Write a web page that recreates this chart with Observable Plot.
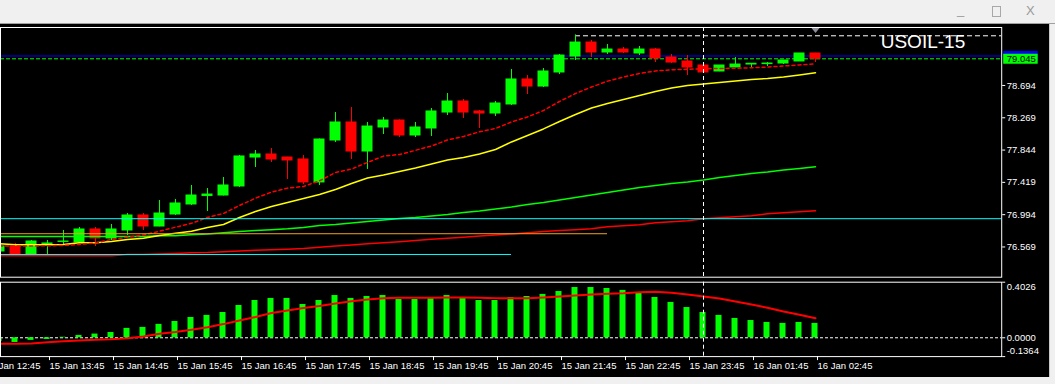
<!DOCTYPE html>
<html><head><meta charset="utf-8">
<script src="https://cdn.jsdelivr.net/npm/d3@7"></script>
<script src="https://cdn.jsdelivr.net/npm/@observablehq/plot@0.6"></script>
<style>
html,body{margin:0;padding:0;}
body{width:1055px;height:384px;background:#f0f0f0;position:relative;overflow:hidden;font-family:"Liberation Sans",Arial,sans-serif;}
#bar{position:absolute;left:0;top:0;width:1055px;height:23px;background:#f0f0f0;border-bottom:1px solid #a0a0a0;}
.ctl{position:absolute;color:#9a9a9a;font-size:13px;line-height:13px;}
#maxbox{position:absolute;left:992px;top:6px;width:7px;height:9px;border:1px solid #a8a8a8;}
#chart{position:absolute;left:0;top:24px;width:1049px;height:353px;background:#000;overflow:hidden;}
#main{position:absolute;left:0;top:1px;}
#ind{position:absolute;left:0;top:256px;}
#edge{position:absolute;left:1049px;top:24px;width:1px;height:353px;background:#c8c8c8;}
</style></head><body>
<div id="bar"><span class="ctl" style="left:957px;top:3px">_</span><div id="maxbox"></div><span class="ctl" style="left:1026px;top:4px">X</span></div>
<div id="chart"><div id="main"></div><div id="ind"></div></div>
<div id="edge"></div>
<script>
// ---- candles (USOIL M15) ----
const open  = [76.509,76.575,76.470,76.608,76.635,76.628,76.799,76.681,76.786,76.983,
  76.838,76.996,77.128,77.240,77.246,77.365,77.746,77.786,77.746,77.720,
  77.418,77.970,78.207,77.825,78.141,78.233,78.036,78.128,78.338,78.483,
  78.352,78.325,78.444,78.773,78.680,78.865,79.075,79.259,79.128,79.167,
  79.115,79.167,79.062,79.010,78.957,78.878,78.931,78.970,78.975,78.983,
  79.010,79.115];
const high  = [76.588,76.615,76.654,76.654,76.786,76.825,76.825,76.865,77.009,77.009,
  77.180,77.194,77.378,77.338,77.483,77.773,77.838,77.865,77.750,77.773,
  77.990,78.338,78.404,78.207,78.273,78.240,78.207,78.391,78.588,78.509,
  78.365,78.483,78.904,78.825,78.917,79.102,79.360,79.286,79.233,79.194,
  79.207,79.180,79.102,79.088,78.960,78.957,79.062,78.983,78.996,79.023,
  79.115,79.118];
const low   = [76.496,76.465,76.444,76.470,76.588,76.622,76.575,76.654,76.720,76.786,
  76.835,76.983,77.115,77.036,77.240,77.352,77.615,77.681,77.457,77.391,
  77.378,77.944,77.720,77.589,78.049,78.009,78.009,78.023,78.299,78.259,
  78.128,78.286,78.431,78.575,78.667,78.838,79.023,79.062,79.102,79.115,
  79.088,78.996,78.983,78.825,78.852,78.875,78.928,78.931,78.944,78.970,
  79.010,78.996];
const close = [76.575,76.470,76.641,76.615,76.641,76.799,76.681,76.799,76.983,76.838,
  77.009,77.141,77.246,77.259,77.378,77.760,77.786,77.720,77.707,77.418,
  77.983,78.207,77.825,78.154,78.233,78.036,78.141,78.352,78.483,78.338,
  78.325,78.457,78.773,78.680,78.878,79.088,79.259,79.128,79.167,79.128,
  79.167,79.049,78.996,78.931,78.865,78.957,78.970,78.980,78.983,79.023,
  79.115,79.045];
// ---- moving averages ----
const maFast = [76.582,76.582,76.582,76.585,76.589,76.602,76.622,76.668,76.697,76.727,
  76.776,76.829,76.881,76.957,77.010,77.115,77.211,77.291,77.343,77.365,
  77.439,77.549,77.595,77.681,77.765,77.786,77.841,77.898,77.977,78.023,
  78.085,78.128,78.214,78.280,78.365,78.483,78.588,78.674,78.751,78.806,
  78.852,78.885,78.901,78.907,78.914,78.918,78.920,78.927,78.937,78.950,
  78.964,78.980];
const maMid = [76.611,76.598,76.598,76.598,76.602,76.624,76.624,76.641,76.668,76.685,
  76.720,76.750,76.777,76.826,76.865,76.957,77.036,77.102,77.154,77.207,
  77.260,77.326,77.404,77.477,77.516,77.562,77.608,77.661,77.714,77.747,
  77.793,77.852,77.951,78.036,78.122,78.220,78.312,78.398,78.457,78.510,
  78.562,78.615,78.661,78.694,78.714,78.733,78.753,78.773,78.786,78.806,
  78.832,78.861];
const maSlow = [76.707,76.707,76.707,76.707,76.707,76.707,76.707,76.707,76.707,76.707,
  76.716,76.716,76.729,76.740,76.756,76.773,76.786,76.795,76.808,76.826,
  76.852,76.865,76.885,76.905,76.924,76.944,76.957,76.977,76.997,77.023,
  77.043,77.069,77.095,77.128,77.155,77.187,77.220,77.253,77.286,77.319,
  77.352,77.378,77.404,77.424,77.451,77.483,77.510,77.536,77.556,77.582,
  77.602,77.624];
const maLong = [76.453,76.453,76.453,76.453,76.453,76.453,76.453,76.453,76.470,76.470,
  76.477,76.483,76.493,76.497,76.506,76.516,76.527,76.532,76.540,76.549,
  76.565,76.581,76.595,76.610,76.624,76.639,76.654,76.669,76.683,76.698,
  76.712,76.727,76.741,76.757,76.773,76.786,76.795,76.808,76.835,76.848,
  76.861,76.887,76.901,76.914,76.940,76.953,76.966,76.980,77.006,77.019,
  77.032,77.045];
// ---- oscillator ----
const hist = [-0.027,-0.034,-0.019,-0.012,0.004,0.017,0.027,0.038,0.068,0.075,
  0.097,0.118,0.147,0.162,0.183,0.234,0.270,0.285,0.285,0.241,
  0.270,0.306,0.285,0.299,0.306,0.277,0.277,0.285,0.306,0.285,
  0.270,0.270,0.292,0.299,0.314,0.335,0.364,0.364,0.357,0.343,
  0.328,0.292,0.256,0.219,0.183,0.162,0.140,0.125,0.111,0.104,
  0.111,0.104];
const signal = [-0.043,-0.043,-0.041,-0.032,-0.025,-0.020,-0.014,-0.010,-0.003,0.009,
  0.029,0.041,0.058,0.077,0.099,0.125,0.151,0.180,0.198,0.216,
  0.230,0.248,0.265,0.277,0.287,0.290,0.290,0.290,0.292,0.292,
  0.290,0.287,0.287,0.287,0.292,0.299,0.306,0.314,0.319,0.323,
  0.330,0.333,0.326,0.314,0.299,0.285,0.263,0.241,0.217,0.190,
  0.167,0.142];
// ---- ticks, levels ----
const priceTicks = [76.569,76.994,77.419,77.844,78.269,78.694];
const indTicks = [0.4026, 0.0, -0.1364];
const tickBars = [-1,3,7,11,15,19,23,27,31,35,39,43,47,51];
const tickLabels = ["15 Jan 12:45","15 Jan 13:45","15 Jan 14:45","15 Jan 15:45","15 Jan 16:45",
  "15 Jan 17:45","15 Jan 18:45","15 Jan 19:45","15 Jan 20:45","15 Jan 21:45","15 Jan 22:45",
  "15 Jan 23:45","16 Jan 01:45","16 Jan 02:45"];
const separatorBars = [44];
const bid = 79.045, ask = 79.082;
const topLevel = {price: 79.348, fromBar: 36};
const cyanFull = 76.941;
const cyanShort = {price: 76.470, fromBar: 0, toBar: 32};
const orangeLine = {price: 76.743, fromBar: 0, toBar: 38};
const symbolName = "USOIL-15";

const bars = d3.range(open.length);
const up = bars.filter(i => close[i] >= open[i]);
const dn = bars.filter(i => close[i] < open[i]);
const px = 1/16;                 // bar units per pixel
const xDom = [1/16, 1002.2/16];
const style = {background: "transparent", color: "white", fontFamily: "Liberation Sans", fontSize: "9.5px", overflow: "hidden"};
const downTri = {draw(ctx, size){ const w = Math.sqrt(size); ctx.moveTo(-w/2,-w*0.3); ctx.lineTo(w/2,-w*0.3); ctx.lineTo(0,w*0.3); ctx.closePath(); }};

const main = Plot.plot({
  width: 1049, height: 255, marginTop: 2, marginBottom: 3.3, marginLeft: 0, marginRight: 47.8,
  x: {domain: xDom, axis: null},
  y: {domain: [76.171, 79.457], label: null},
  style,
  marks: [
    Plot.ruleY([ask], {stroke: "#0000ff"}),
    Plot.ruleY([bid], {stroke: "#00ff00", strokeDasharray: "4,2"}),
    Plot.ruleY([topLevel], {y: "price", x1: "fromBar", x2: () => xDom[1], stroke: "white", strokeDasharray: "5,3"}),
    Plot.ruleX(up, {x: i => i, y1: i => low[i], y2: i => high[i], stroke: "#00ff00"}),
    Plot.ruleX(dn, {x: i => i, y1: i => low[i], y2: i => high[i], stroke: "#ff0000"}),
    Plot.rect(up, {x1: i => i - 5.5*px, x2: i => i + 5.5*px, y1: i => open[i], y2: i => close[i], fill: "#00ff00", insetTop: -0.5, insetBottom: -0.5}),
    Plot.rect(dn, {x1: i => i - 5.5*px, x2: i => i + 5.5*px, y1: i => open[i], y2: i => close[i], fill: "#ff0000", insetTop: -0.5, insetBottom: -0.5}),
    Plot.line(bars, {x: i => i, y: i => maLong[i], stroke: "#ff0000"}),
    Plot.line(bars, {x: i => i, y: i => maSlow[i], stroke: "#00ff00"}),
    Plot.line(bars, {x: i => i, y: i => maMid[i], stroke: "#ffff00"}),
    Plot.line(bars, {x: i => i, y: i => maFast[i], stroke: "#ff0000", strokeDasharray: "3,3"}),
    Plot.ruleY([orangeLine], {y: "price", x1: d => d.fromBar - 2, x2: "toBar", stroke: "#f0a020"}),
    Plot.ruleY([cyanShort], {y: "price", x1: d => d.fromBar - 2, x2: "toBar", stroke: "#00ffff"}),
    Plot.ruleY([cyanFull], {stroke: "#00ffff"}),
    Plot.ruleX(separatorBars, {stroke: "white", strokeDasharray: "4,3"}),
    Plot.frame({stroke: "white"}),
    Plot.axisY(priceTicks, {anchor: "right", label: null, tickSize: 3, tickPadding: 2, tickFormat: d => d.toFixed(3), fill: "white", stroke: "white"}),
    Plot.ruleY([ask], {x1: xDom[1] + 2*px, x2: xDom[1] + 36.5*px, stroke: "#0000ff", strokeWidth: 10}),
    Plot.ruleY([bid], {x1: xDom[1] + 2*px, x2: xDom[1] + 36.5*px, stroke: "#00ff00", strokeWidth: 10}),
    Plot.text([bid], {y: d => d, frameAnchor: "right", dx: 5, textAnchor: "start", fill: "black", text: d => d.toFixed(3)}),
    Plot.text([symbolName], {frameAnchor: "top-right", dx: -36.5, dy: 7.3, textAnchor: "end", lineAnchor: "top", fontSize: 19, fill: "white", text: d => d}),
    Plot.dot([bars.length - 1], {x: d => d, frameAnchor: "top", dy: 3, symbol: downTri, r: 4.5, fill: "#8c8f99", stroke: "none"})
  ]
});
document.getElementById("main").appendChild(main);

const ind = Plot.plot({
  width: 1049, height: 97, marginTop: 1.7, marginBottom: 20.9, marginLeft: 0, marginRight: 47.8,
  x: {domain: xDom, label: null},
  y: {domain: [-0.1364, 0.4026], label: null},
  style,
  marks: [
    Plot.ruleY([0], {stroke: "white", strokeDasharray: "3,2"}),
    Plot.rect(bars, {x1: i => i - 3.5*px, x2: i => i + 2.5*px, y1: 0, y2: i => hist[i], fill: "#00ff00"}),
    Plot.line(bars, {x: i => i, y: i => signal[i], stroke: "#ff0000", strokeWidth: 2}),
    Plot.ruleX(separatorBars, {stroke: "white", strokeDasharray: "4,3"}),
    Plot.frame({stroke: "white"}),
    Plot.axisY(indTicks, {anchor: "right", label: null, tickSize: 3, tickFormat: () => "", stroke: "white"}),
    Plot.text([indTicks[0]], {y: d => d, frameAnchor: "right", dx: 5, dy: 4.3, textAnchor: "start", fill: "white", text: d => d.toFixed(4)}),
    Plot.text([indTicks[1]], {y: d => d, frameAnchor: "right", dx: 5, textAnchor: "start", fill: "white", text: d => d.toFixed(4)}),
    Plot.text([indTicks[2]], {y: d => d, frameAnchor: "right", dx: 5, dy: -5.6, textAnchor: "start", fill: "white", text: d => d.toFixed(4)}),
    Plot.axisX(tickBars, {anchor: "bottom", label: null, tickSize: 4, tickPadding: 2, textAnchor: "start", dx: 2, stroke: "white", fill: "white",
      tickFormat: d => tickLabels[tickBars.indexOf(d)]})
  ]
});
document.getElementById("ind").appendChild(ind);
</script>
</body></html>
